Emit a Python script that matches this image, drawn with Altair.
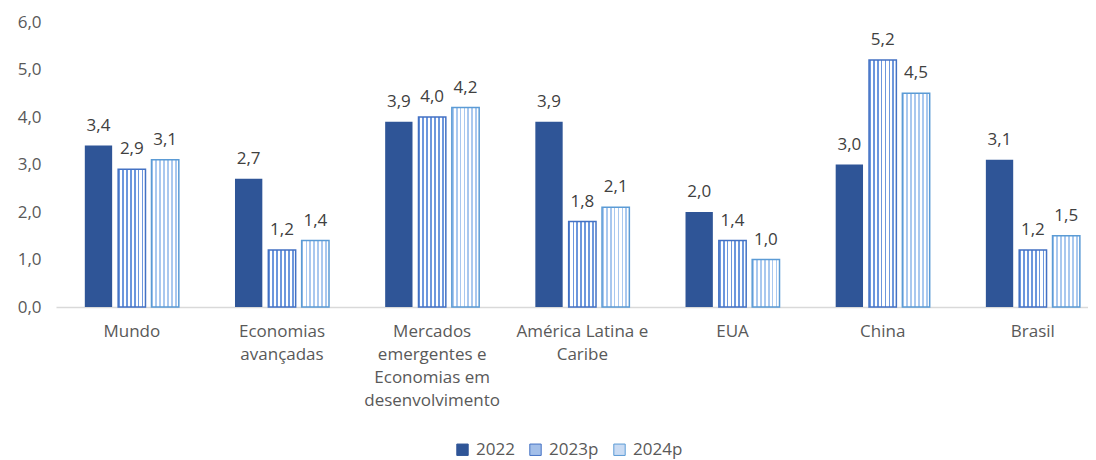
import altair as alt
import pandas as pd

categories = [
    "Mundo",
    "Economias avançadas",
    "Mercados emergentes e Economias em desenvolvimento",
    "América Latina e Caribe",
    "EUA",
    "China",
    "Brasil",
]
label_lines = [
    ["Mundo"],
    ["Economias", "avançadas"],
    ["Mercados", "emergentes e", "Economias em", "desenvolvimento"],
    ["América Latina e", "Caribe"],
    ["EUA"],
    ["China"],
    ["Brasil"],
]
series = ["2022", "2023p", "2024p"]
v2022 = [3.4, 2.7, 3.9, 3.9, 2.0, 3.0, 3.1]
v2023 = [2.9, 1.2, 4.0, 1.8, 1.4, 5.2, 1.2]
v2024 = [3.1, 1.4, 4.2, 2.1, 1.0, 4.5, 1.5]

rows = []
for i, c in enumerate(categories):
    for s, vals in zip(series, [v2022, v2023, v2024]):
        rows.append({"cat": c, "serie": s, "v": vals[i]})
df = pd.DataFrame(rows)

FONT = "Open Sans"
TXT = "#595959"
FS = 17

# multi-line axis labels
expr = "datum.label"
for c, lines in reversed(list(zip(categories, label_lines))):
    arr = "[" + ",".join("'" + l + "'" for l in lines) + "]"
    expr = f"datum.label == '{c}' ? {arr} : ({expr})"

xscale = alt.Scale(domain=categories, paddingInner=0.374, paddingOuter=0.123, align=0.78)
xoff_scale = alt.Scale(domain=series, paddingInner=0.18, paddingOuter=0)
yscale = alt.Scale(domain=[0, 6], nice=False)

x_enc = alt.X(
    "cat:N",
    scale=xscale,
    sort=categories,
    title=None,
    axis=alt.Axis(
        labelAngle=0,
        labelExpr=expr,
        labelFont=FONT,
        labelFontSize=FS,
        labelColor=TXT,
        labelLineHeight=23,
        labelPadding=16,
        labelBaseline="top",
        ticks=False,
        domainColor="#d9d9d9",
        domainWidth=1.3,
    ),
)
xo = alt.XOffset("serie:N", scale=xoff_scale, sort=series)
y_enc = alt.Y(
    "v:Q",
    scale=yscale,
    title=None,
    axis=alt.Axis(
        values=[0, 1, 2, 3, 4, 5, 6],
        labelExpr="replace(format(datum.value, '.1f'), '.', ',')",
        labelFont=FONT,
        labelFontSize=FS,
        labelColor=TXT,
        labelPadding=15,
        ticks=False,
        domain=False,
        grid=False,
    ),
)

fill_colors = ["#2F5597", "#a3bfe9", "#c9dbf3"]
stroke_colors = ["#2F5597", "#4472C4", "#5B9BD5"]


def stripes(line_color, bg, n, frac):
    stops = []
    for k in range(n):
        a = k / n
        b = (k + frac) / n
        e = (k + 1) / n
        stops += [
            alt.GradientStop(offset=a, color=line_color),
            alt.GradientStop(offset=b, color=line_color),
            alt.GradientStop(offset=b, color=bg),
            alt.GradientStop(offset=e, color=bg),
        ]
    return alt.Gradient(gradient="linear", stops=stops, x1=0, x2=1, y1=0, y2=0)


base = alt.Chart(df)

bars = base.mark_bar(strokeWidth=0).encode(
    x=x_enc,
    xOffset=xo,
    y=y_enc,
    color=alt.Color(
        "serie:N",
        scale=alt.Scale(domain=series, range=fill_colors),
        legend=alt.Legend(
            orient="none",
            legendX=398,
            legendY=419,
            direction="horizontal",
            title=None,
            labelFont=FONT,
            labelFontSize=FS,
            labelColor=TXT,
            symbolType="square",
            symbolSize=130,
            symbolStrokeWidth=1,
            labelOffset=5,
            columnPadding=12,
        ),
    ),
    stroke=alt.Stroke(
        "serie:N",
        scale=alt.Scale(domain=series, range=stroke_colors),
        legend=None,
    ),
)

hatch23 = base.transform_filter(alt.datum.serie == "2023p").mark_bar(
    fill=stripes("#6d97dd", "#ffffff", 7, 0.45),
    stroke="#4472C4",
    strokeWidth=1.5,
).encode(x=x_enc, xOffset=xo, y=y_enc)

hatch24 = base.transform_filter(alt.datum.serie == "2024p").mark_bar(
    fill=stripes("#a9c8ef", "#ffffff", 7, 0.45),
    stroke="#5B9BD5",
    strokeWidth=1.5,
).encode(x=x_enc, xOffset=xo, y=y_enc)

labels = base.transform_calculate(
    lab="replace(format(datum.v, '.1f'), '.', ',')"
).mark_text(
    font=FONT, fontSize=FS, color="#404040", baseline="alphabetic", dy=-15
).encode(x=x_enc, xOffset=xo, y=y_enc, text="lab:N")

chart = (
    alt.layer(bars, hatch23, hatch24, labels)
    .properties(
        width=1032,
        height=285,
        autosize=alt.AutoSizeParams(type="none"),
        padding={"left": 48, "top": 14, "right": 0, "bottom": 153},
    )
    .configure_view(stroke=None)
)

chart.save("out.html", embed_options={"renderer": "svg", "actions": False})
